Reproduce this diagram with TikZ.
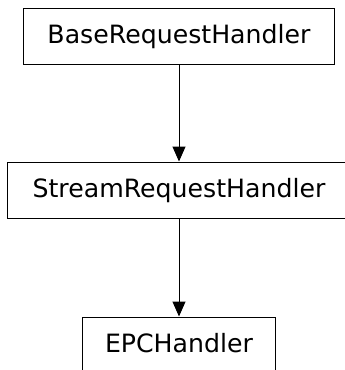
\documentclass[tikz,border=0pt]{standalone}
\usepackage{fontspec}
\setmainfont{DejaVu Sans}
\usetikzlibrary{arrows.meta}
\begin{document}
\begin{tikzpicture}[x=1bp,y=-1bp,
  cls/.style={draw=black, line width=1bp, rectangle, inner sep=0pt,
    minimum height=56bp, text height=18bp, text depth=4bp,
    font=\fontsize{25.3}{30}\selectfont},
  inh/.style={draw=black, line width=1bp, -{Triangle[length=15bp,width=13bp]}}]
\clip (0,0) rectangle (345,370);
\fill[white] (0,0) rectangle (345,370);
\node[cls, minimum width=310bp] (base) at (179,36) {BaseRequestHandler};
\node[cls, minimum width=342bp] (stream) at (179,190) {StreamRequestHandler};
\node[cls, minimum width=192bp] (epc) at (179,345) {EPCHandler};
\draw[inh] (base) -- (stream);
\draw[inh] (stream) -- (epc);
\end{tikzpicture}
\end{document}
